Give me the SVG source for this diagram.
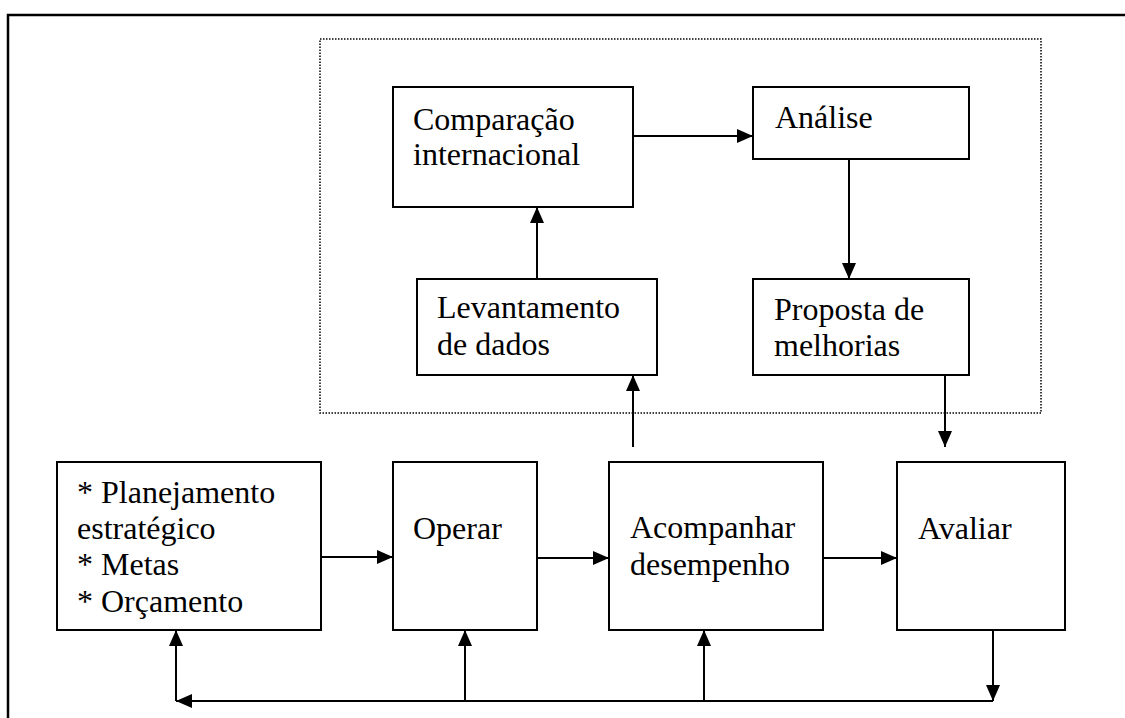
<svg xmlns="http://www.w3.org/2000/svg" width="1125" height="718" viewBox="0 0 1125 718">
<defs>
<style>
.box{fill:#fff;stroke:#000;stroke-width:2}
.t{font-family:"Liberation Serif","Times New Roman",serif;font-size:32px;fill:#000}
.c{fill:none;stroke:#000;stroke-width:2}
</style>
<marker id="ah" viewBox="0 0 16 14" refX="16" refY="7" markerWidth="16" markerHeight="14" markerUnits="userSpaceOnUse" orient="auto">
<path d="M0,0 L16,7 L0,14 Z" fill="#000"/>
</marker>
</defs>
<rect width="1125" height="718" fill="#fff"/>
<g id="frame">
<path d="M8,718 V15 H1125" fill="none" stroke="#000" stroke-width="2.5"/>
<rect x="320" y="39" width="721" height="374" fill="none" stroke="#000" stroke-width="1.5" stroke-dasharray="1.5 1.5"/>
</g>
<g id="comparacao"><rect class="box" x="393" y="87" width="240" height="120"/><text class="t" x="413" y="130">Comparação</text><text class="t" x="413" y="165">internacional</text></g>
<g id="analise"><rect class="box" x="753" y="87" width="216" height="72"/><text class="t" x="775" y="128">Análise</text></g>
<g id="levantamento"><rect class="box" x="417" y="279" width="240" height="96"/><text class="t" x="437" y="318">Levantamento</text><text class="t" x="437" y="355">de dados</text></g>
<g id="proposta"><rect class="box" x="753" y="279" width="216" height="96"/><text class="t" x="774" y="320">Proposta de</text><text class="t" x="774" y="356">melhorias</text></g>
<g id="planejamento"><rect class="box" x="57" y="462" width="264" height="168"/><text class="t" x="77" y="503">* Planejamento</text><text class="t" x="77" y="539">estratégico</text><text class="t" x="77" y="575">* Metas</text><text class="t" x="77" y="612">* Orçamento</text></g>
<g id="operar"><rect class="box" x="393" y="462" width="144" height="168"/><text class="t" x="413" y="539">Operar</text></g>
<g id="acompanhar"><rect class="box" x="609" y="462" width="214" height="168"/><text class="t" x="630" y="538">Acompanhar</text><text class="t" x="630" y="575">desempenho</text></g>
<g id="avaliar"><rect class="box" x="897" y="462" width="168" height="168"/><text class="t" x="918" y="539">Avaliar</text></g>
<g id="connectors">
<line class="c" x1="633" y1="136" x2="753" y2="136" marker-end="url(#ah)"/>
<line class="c" x1="849" y1="159" x2="849" y2="279" marker-end="url(#ah)"/>
<line class="c" x1="537" y1="279" x2="537" y2="207" marker-end="url(#ah)"/>
<line class="c" x1="633" y1="447" x2="633" y2="375" marker-end="url(#ah)"/>
<line class="c" x1="945" y1="375" x2="945" y2="447" marker-end="url(#ah)"/>
<line class="c" x1="321" y1="557" x2="393" y2="557" marker-end="url(#ah)"/>
<line class="c" x1="537" y1="558" x2="609" y2="558" marker-end="url(#ah)"/>
<line class="c" x1="823" y1="558" x2="897" y2="558" marker-end="url(#ah)"/>
<line class="c" x1="993" y1="630" x2="993" y2="701" marker-end="url(#ah)"/>
<line class="c" x1="993" y1="701" x2="176" y2="701" marker-end="url(#ah)"/>
<line class="c" x1="176" y1="701" x2="176" y2="630" marker-end="url(#ah)"/>
<line class="c" x1="465" y1="701" x2="465" y2="630" marker-end="url(#ah)"/>
<line class="c" x1="704" y1="701" x2="704" y2="630" marker-end="url(#ah)"/>
</g>
</svg>
